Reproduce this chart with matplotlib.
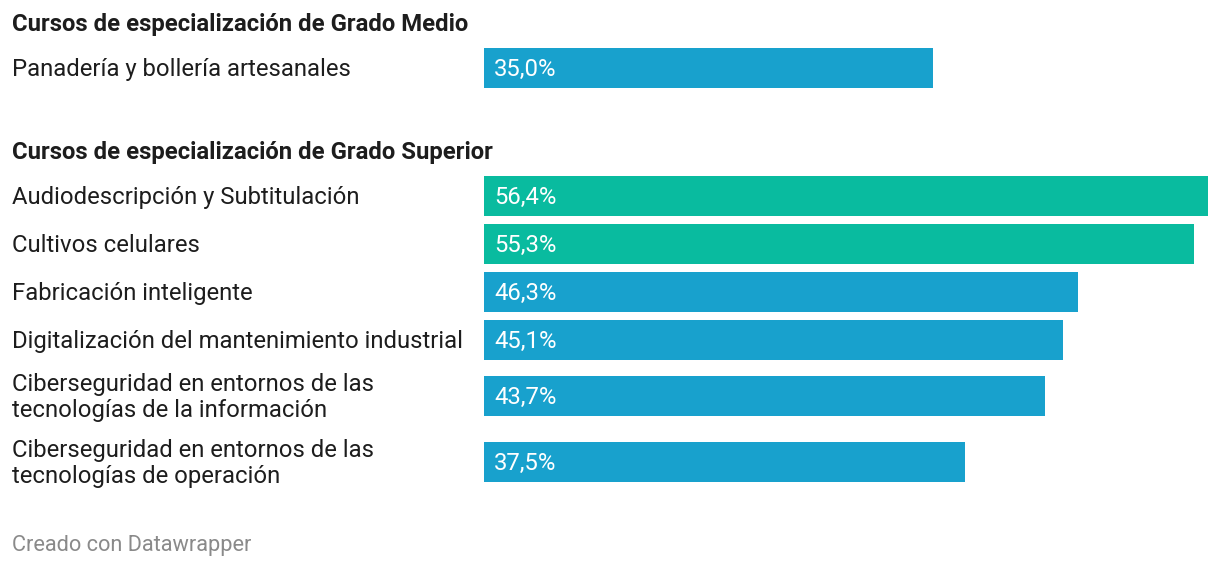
import matplotlib
matplotlib.use("Agg")
import matplotlib.pyplot as plt
import matplotlib.transforms as mtransforms

plt.rcParams['font.family'] = ['Roboto', 'DejaVu Sans']

# Data
group_medio = "Cursos de especialización de Grado Medio"
group_superior = "Cursos de especialización de Grado Superior"
medio_labels = ["Panadería y bollería artesanales"]
medio_values = [35.0]
superior_labels = [
    "Audiodescripción y Subtitulación",
    "Cultivos celulares",
    "Fabricación inteligente",
    "Digitalización del mantenimiento industrial",
    "Ciberseguridad en entornos de las\ntecnologías de la información",
    "Ciberseguridad en entornos de las\ntecnologías de operación",
]
superior_values = [56.4, 55.3, 46.3, 45.1, 43.7, 37.5]

blue = "#18a1cd"
green = "#09bb9f"
text_col = "#1d1d1d"
fs = 17.2

W, H = 1220, 568
fig = plt.figure(figsize=(W / 100, H / 100), dpi=100)
# axes spans bar area horizontally, full height; y in pixels from top
ax = fig.add_axes([484 / W, 0, (1208 - 484) / W, 1])
ax.set_xlim(0, max(superior_values))
ax.set_ylim(H, 0)
ax.axis("off")

trans = mtransforms.blended_transform_factory(fig.transFigure, ax.transData)
lx = 12 / W

def bar_row(label, value, yc, color):
    ax.barh(yc, value, height=40, color=color, left=0)
    ax.text(10 / 724 * max(superior_values), yc + 1, f"{value:.1f}%".replace(".", ","),
            color="white", fontsize=fs, va="center", ha="left")
    ax.text(lx, yc + 1.5, label, transform=trans, color=text_col, fontsize=fs,
            va="center", ha="left", linespacing=1.2)

# Grado Medio
ax.text(lx, 24, group_medio, transform=trans, color=text_col, fontsize=fs,
        fontweight="bold", va="center", ha="left")
for lab, v in zip(medio_labels, medio_values):
    bar_row(lab, v, 68, blue)

# Grado Superior
ax.text(lx, 152, group_superior, transform=trans, color=text_col, fontsize=fs,
        fontweight="bold", va="center", ha="left")
ycs = [196, 244, 292, 340, 396, 462]
for lab, v, yc in zip(superior_labels, superior_values, ycs):
    col = green if v > 50 else blue
    bar_row(lab, v, yc, col)

ax.text(lx, 545, "Creado con Datawrapper", transform=trans, color="#8a8a8a",
        fontsize=15.7, va="center", ha="left")

fig.savefig("out.png", dpi=100)
